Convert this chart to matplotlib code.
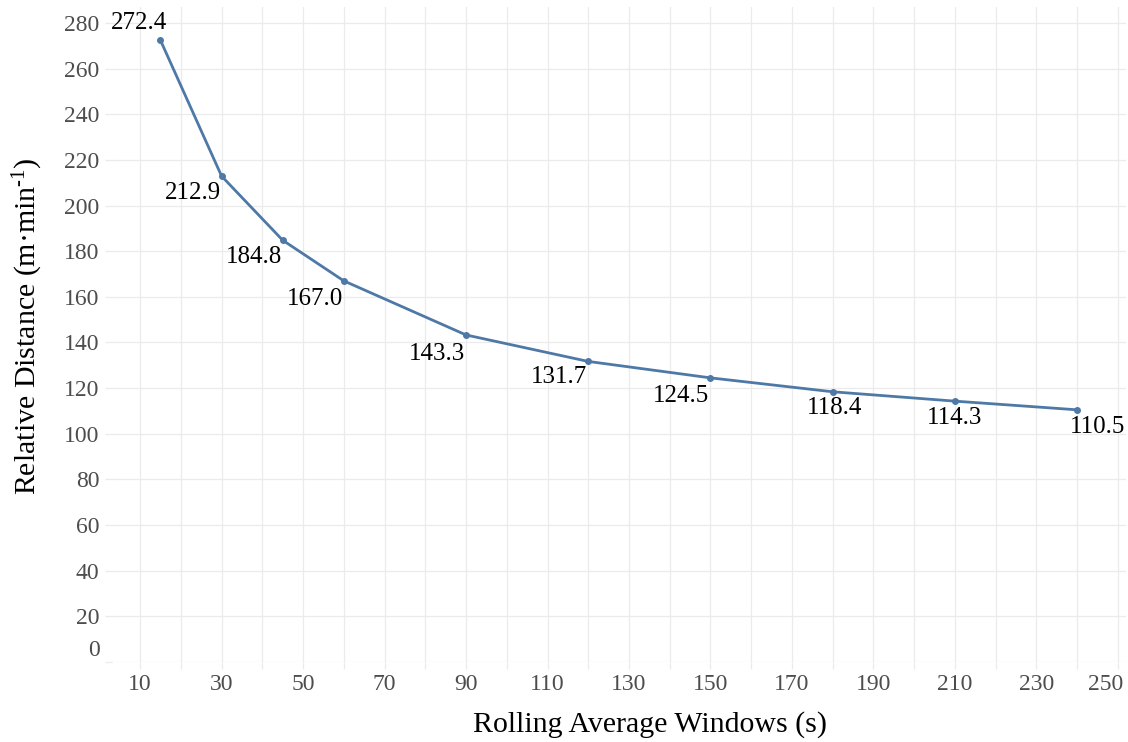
import matplotlib
matplotlib.use("Agg")
import matplotlib.pyplot as plt
from matplotlib.transforms import ScaledTranslation

windows = [15, 30, 45, 60, 90, 120, 150, 180, 210, 240]
distance = [272.4, 212.9, 184.8, 167.0, 143.3, 131.7, 124.5, 118.4, 114.3, 110.5]
x_major = [10, 30, 50, 70, 90, 110, 130, 150, 170, 190, 210, 230, 250]
x_minor = [20, 40, 60, 80, 100, 120, 140, 160, 180, 200, 220, 240]
y_ticks = [0, 20, 40, 60, 80, 100, 120, 140, 160, 180, 200, 220, 240, 260, 280]

# label offsets in pixels (dx, dy) and horizontal alignment
label_off = [(-21, 17), (-1, -17), (-1, -17), (-1, -18), (-1, -19), (-1, -16), (-1, -18), (2, -16), (0, -17), (20, -17)]
label_ha = ['center', 'right', 'right', 'right', 'right', 'right', 'right', 'center', 'center', 'center']

plt.rcParams['font.family'] = ['Liberation Serif', 'DejaVu Serif']
plt.rcParams['mathtext.fontset'] = 'custom'
plt.rcParams['mathtext.rm'] = 'Liberation Serif'
plt.rcParams['mathtext.it'] = 'Liberation Serif:italic'

fig = plt.figure(figsize=(11.28, 7.42), dpi=100)
ax = fig.add_axes([112/1128, 80/742, (1126-112)/1128, (662-7)/742])

grid_c = '#EBEBEB'
ax.set_xlim(3.1, 252)
ax.set_ylim(0, 287)
ax.set_xticks(x_major)
ax.set_xticks(x_minor, minor=True)
ax.set_yticks(y_ticks)
ax.grid(True, which='both', color=grid_c, linewidth=0.9)
ax.set_axisbelow(True)
for s in ax.spines.values():
    s.set_visible(False)
ax.tick_params(axis='both', which='both', length=5, width=0.9, color=grid_c,
               labelsize=17, labelcolor='#4D4D4D', pad=4)
ax.tick_params(axis='x', which='minor', labelbottom=False)

line_c = '#4E79A7'
ax.plot(windows, distance, color=line_c, linewidth=2.0, marker='o', markersize=4, zorder=3)

for xv, yv, off, ha in zip(windows, distance, label_off, label_ha):
    ax.annotate(f"{yv:.1f}", (xv, yv), xytext=off, textcoords='offset pixels',
                ha=ha, va='center', fontsize=18, color='black')

ax.set_xlabel('Rolling Average Windows (s)', fontsize=21.5)
ax.set_ylabel('Relative Distance (m·min$^{\\mathregular{\u20101}}$)', fontsize=21.5)
ax.xaxis.set_label_coords((650 - 112) / 1014, -(711 - 662) / 655)
ax.yaxis.set_label_coords(-(112 - 45) / 1014, 0.5 + 8 / 655)

fig.canvas.draw()
for lab in ax.get_yticklabels():
    if lab.get_text() in ('0', '$\\mathdefault{0}$'):
        lab.set_transform(lab.get_transform() + ScaledTranslation(0, 14/100, fig.dpi_scale_trans))
for lab in ax.get_xticklabels():
    if lab.get_text() in ('250', '$\\mathdefault{250}$'):
        lab.set_transform(lab.get_transform() + ScaledTranslation(-12/100, 0, fig.dpi_scale_trans))

fig.savefig('out.png', dpi=100)
